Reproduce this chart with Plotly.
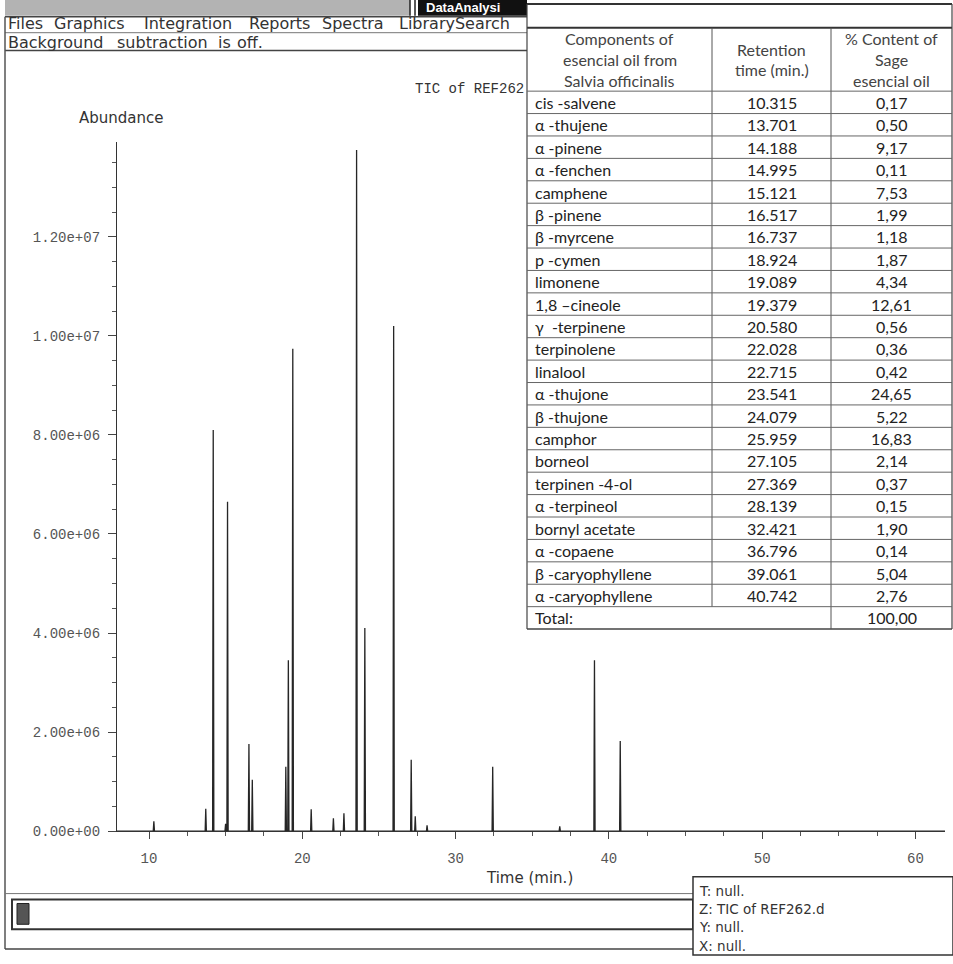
import plotly.graph_objects as go

# ---------------- data ----------------
compounds = ["cis -salvene", "α -thujene", "α -pinene", "α -fenchen", "camphene",
             "β -pinene", "β -myrcene", "p -cymen", "limonene", "1,8 –cineole",
             "γ  -terpinene", "terpinolene", "linalool", "α -thujone", "β -thujone",
             "camphor", "borneol", "terpinen -4-ol", "α -terpineol", "bornyl acetate",
             "α -copaene", "β -caryophyllene", "α -caryophyllene"]
retention = [10.315, 13.701, 14.188, 14.995, 15.121, 16.517, 16.737, 18.924, 19.089,
             19.379, 20.580, 22.028, 22.715, 23.541, 24.079, 25.959, 27.105, 27.369,
             28.139, 32.421, 36.796, 39.061, 40.742]
content = [0.17, 0.50, 9.17, 0.11, 7.53, 1.99, 1.18, 1.87, 4.34, 12.61, 0.56, 0.36,
           0.42, 24.65, 5.22, 16.83, 2.14, 0.37, 0.15, 1.90, 0.14, 5.04, 2.76]
total_label = "Total:"
total_value = "100,00"
# peak heights (abundance)
heights = [0.20e6, 0.45e6, 8.10e6, 0.15e6, 6.65e6, 1.76e6, 1.04e6, 1.30e6, 3.45e6,
           9.74e6, 0.44e6, 0.26e6, 0.36e6, 13.75e6, 4.10e6, 10.20e6, 1.44e6, 0.30e6,
           0.12e6, 1.30e6, 0.10e6, 3.45e6, 1.82e6]
ytick_vals = [0, 2e6, 4e6, 6e6, 8e6, 1e7, 1.2e7]
ytick_text = ["0.00e+00", "2.00e+06", "4.00e+06", "6.00e+06", "8.00e+06", "1.00e+07", "1.20e+07"]
xtick_vals = [10, 20, 30, 40, 50, 60]
menu_words = ["Files", "Graphics", "Integration", "Reports", "Spectra", "LibrarySearch"]
status_words = ["Background", "subtraction", "is", "off."]
info_lines = ["T: null.", "Z: TIC of REF262.d", "Y: null.", "X: null."]
header_cols = [["Components of", "esencial oil from", "Salvia officinalis"],
               ["Retention", "time (min.)"],
               ["% Content of", "Sage", "esencial oil"]]

W, H = 953, 964
def px(x): return x / W
def py(y): return 1 - y / H

# build chromatogram trace
xs, ys = [7.9], [0]
for t, h in sorted(zip(retention, heights)):
    xs += [t - 0.04, t, t + 0.04]
    ys += [0, h, 0]
xs.append(62.0); ys.append(0)

fig = go.Figure()
fig.add_trace(go.Scatter(x=xs, y=ys, mode="lines", line=dict(color="#262626", width=1.3),
                         hoverinfo="skip", showlegend=False))

mono = "Liberation Mono"
sans = "DejaVu Sans"
fig.update_layout(
    width=W, height=H, margin=dict(l=0, r=0, t=0, b=0),
    paper_bgcolor="white", plot_bgcolor="white", showlegend=False,
    xaxis=dict(domain=[px(117), px(945)], range=[7.91, 61.93], showgrid=False, zeroline=False,
               showline=True, linecolor="#333", linewidth=1.3,
               tickvals=xtick_vals, ticks="outside", ticklen=7, tickcolor="#444",
               ticklabelstandoff=7,
               tickfont=dict(family=mono, size=14, color="#555"),
               minor=dict(dtick=2.5, tick0=0, ticks="outside", ticklen=4, tickcolor="#555")),
    yaxis=dict(domain=[py(839), py(143)], range=[0, 13.92e6], showgrid=False, zeroline=False,
               showline=True, linecolor="#333", linewidth=1.3,
               tickvals=ytick_vals, ticktext=ytick_text, ticks="outside", ticklen=8, tickcolor="#444",
               ticklabelstandoff=5,
               tickfont=dict(family=mono, size=14, color="#555"),
               minor=dict(dtick=0.5e6, tick0=0, ticks="outside", ticklen=4, tickcolor="#555")),
)

shapes = []
ann = []
def line(x0, y0, x1, y1, w=1, c="#333"):
    shapes.append(dict(type="line", xref="paper", yref="paper", x0=px(x0), y0=py(y0),
                       x1=px(x1), y1=py(y1), line=dict(color=c, width=w), layer="above"))
def rect(x0, y0, x1, y1, fill, lw=0, lc="#333"):
    shapes.append(dict(type="rect", xref="paper", yref="paper", x0=px(x0), y0=py(y0),
                       x1=px(x1), y1=py(y1), fillcolor=fill, line=dict(color=lc, width=lw), layer="above"))
def text(x, y, s, size=14, family=sans, color="#333", xanchor="left", bold=False):
    ann.append(dict(xref="paper", yref="paper", x=px(x), y=py(y), text=(f"<b>{s}</b>" if bold else s),
                    showarrow=False, xanchor=xanchor, yanchor="middle",
                    font=dict(size=size, family=family, color=color)))

# ---- window chrome ----
rect(5, 0, 410, 16, "#b3b3b3")
line(410, 0, 410, 16, 1.5, "#222"); line(415, 0, 415, 16, 1.5, "#222")
rect(418, 0, 527, 16, "#111")
text(424, 8, "DataAnalysi", 13, "Liberation Sans", "white", bold=True)
line(5, 17, 527, 17, 1.5, "#444")
line(5, 33, 527, 33, 1, "#777")
line(5, 51, 527, 51, 1.5, "#444")
line(5, 17, 5, 958, 1.5, "#555")
for wd, x0 in zip(menu_words, [6, 52, 142, 247, 320, 397]):
    text(x0, 24, wd, 16, sans, "#333")
for wd, x0 in zip(status_words, [6, 115, 216, 235]):
    text(x0, 42.5, wd, 16, sans, "#333")
text(526, 90, "TIC of REF262", 14, mono, "#333", xanchor="right")
text(121, 119, "Abundance", 15, sans, "#333", xanchor="center")
text(529, 886, "Time (min.)", 15, sans, "#333", xanchor="center")

# bottom status area
line(5, 902, 693, 902, 1, "#777")
rect(12, 908, 693, 938, "white", 2, "#333")
rect(17, 912, 29, 933, "#555", 1, "#222")
line(5, 958, 693, 958, 1.5, "#444")
rect(693, 885, 953, 964, "white", 1.5, "#333")
for i, s in enumerate(info_lines):
    text(697, 899 + i * 18.5, s, 13.5, sans, "#333")

# ---- table ----
tl, c1, c2, tr = 527, 712, 831, 952
top, hdr_top, hdr_bot, bot = 4, 28, 92, 635
n_rows = len(compounds) + 1
rh = (bot - hdr_bot) / n_rows
rect(tl, top, tr, bot, "white", 0)
line(tl, top, tr, top, 2, "#333")
line(tl, hdr_top, tr, hdr_top, 2, "#333")
line(tl, top, tl, bot, 1.2, "#444")
line(tr, top, tr, bot, 1.2, "#444")
line(tl, bot, tr, bot, 1.5, "#444")
line(c1, hdr_top, c1, bot - rh, 1, "#555")
line(c2, hdr_top, c2, bot, 1, "#555")
for k in range(n_rows):
    line(tl, hdr_bot + k * rh, tr, hdr_bot + k * rh, 1, "#666")

tf = "Lato"
fs = 16
centers = [(tl + c1) / 2, (c1 + c2) / 2, (c2 + tr) / 2]
for ci, lines in enumerate(header_cols):
    n = len(lines)
    mid = (hdr_top + hdr_bot) / 2
    for li, s in enumerate(lines):
        text(centers[ci], mid + (li - (n - 1) / 2) * 21, s, fs, tf, "#444", xanchor="center")

for i, (name, t, v) in enumerate(zip(compounds, retention, content)):
    yc = hdr_bot + (i + 0.5) * rh
    text(533, yc, name, fs, tf, "#222")
    text(centers[1], yc, f"{t:.3f}", fs, tf, "#222", xanchor="center")
    text(centers[2], yc, f"{v:.2f}".replace(".", ","), fs, tf, "#222", xanchor="center")
yc = hdr_bot + (n_rows - 0.5) * rh
text(533, yc, total_label, fs, tf, "#222")
text(centers[2], yc, total_value, fs, tf, "#222", xanchor="center")

fig.update_layout(shapes=shapes, annotations=ann)
fig.write_html("out.html", config={"displayModeBar": False},
               post_script="document.body.style.margin='0';")
